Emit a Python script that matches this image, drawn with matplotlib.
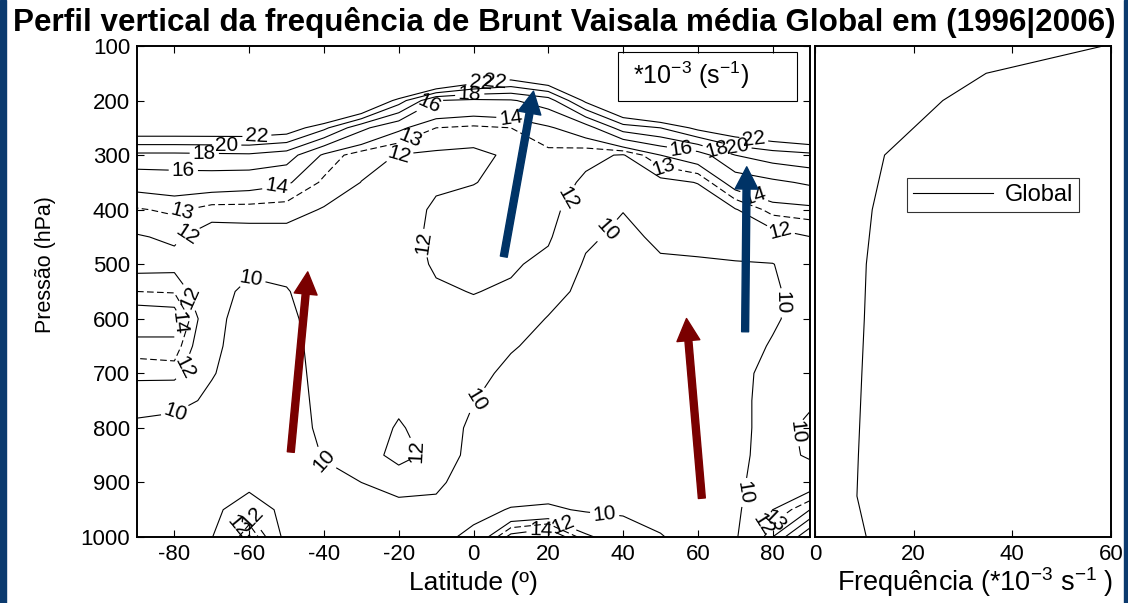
import numpy as np
import matplotlib
matplotlib.use("Agg")
import matplotlib.pyplot as plt
from matplotlib.patches import Rectangle

plt.rcParams['font.family'] = ['Liberation Sans', 'DejaVu Sans']
plt.rcParams['mathtext.fontset'] = 'custom'
plt.rcParams['mathtext.rm'] = 'Liberation Sans'
plt.rcParams['mathtext.it'] = 'Liberation Sans:italic'
plt.rcParams['mathtext.bf'] = 'Liberation Sans:bold'
plt.rcParams['axes.unicode_minus'] = False

# ---------------- data ----------------
LAT = [-90, -80, -70, -60, -50, -40, -30, -20, -10, 0, 10, 20, 30, 40, 50, 60, 70, 80, 90]
PRES = [100, 150, 200, 250, 300, 350, 400, 450, 500, 550, 600, 650, 700, 750, 800, 850, 900, 950, 1000]

# Brunt-Vaisala frequency (*1e-3 s^-1), one profile per latitude (top -> bottom)
N_m90 = [45, 38, 30, 24.0, 17.5, 14.6, 12.9, 11.9, 11.5, 13.0, 15.0, 13.5, 12.4, 10.9, 9.5, 8.8, 8.5, 8.4, 8.5]
N_m80 = [45, 38, 30, 24.0, 17.5, 14.8, 13.2, 12.2, 11.6, 12.9, 14.8, 13.6, 12.5, 10.5, 9.4, 8.7, 8.4, 8.3, 8.3]
N_m70 = [44, 37, 30, 24.0, 17.6, 14.8, 12.6, 11.3, 10.4, 10.5, 10.4, 10.3, 10.1, 9.7, 9.2, 8.9, 8.9, 9.3, 9.9]
N_m60 = [44, 37, 30, 24.0, 17.7, 14.6, 12.6, 11.4, 10.3, 9.7, 9.4, 9.3, 9.2, 9.1, 9.0, 9.0, 9.1, 11.6, 14.2]
N_m50 = [44, 37, 30, 23.5, 17.0, 14.2, 12.5, 11.5, 10.5, 9.9, 9.6, 9.4, 9.3, 9.2, 9.1, 9.0, 9.0, 9.2, 9.3]
N_m40 = [45, 38, 30, 20.5, 13.7, 12.8, 11.9, 11.4, 11.1, 10.9, 10.8, 10.7, 10.6, 10.5, 10.4, 10.1, 9.6, 9.2, 9.0]
N_m30 = [45, 36, 27, 16.5, 12.4, 11.98, 11.7, 11.5, 11.3, 11.2, 11.1, 11.0, 10.9, 10.9, 10.9, 10.8, 10.0, 9.4, 9.2]
N_m20 = [46, 35, 21, 14.3, 11.95, 11.6, 11.4, 11.3, 11.2, 11.2, 11.2, 11.3, 11.4, 11.6, 12.2, 12.8, 10.6, 9.5, 9.2]
N_m10 = [46, 30, 16, 13.0, 11.8, 11.8, 12.2, 12.4, 12.2, 11.8, 11.5, 11.3, 11.2, 11.1, 11.1, 11.3, 10.3, 9.6, 9.5]
N_0 = [45, 26, 15.6, 12.8, 11.7, 11.95, 12.5, 12.6, 12.4, 12.05, 11.6, 11.0, 10.5, 10.05, 9.6, 9.3, 9.2, 9.5, 10.4]
N_p10 = [46, 24, 15.8, 13.0, 12.2, 12.4, 12.6, 12.5, 12.2, 11.8, 11.0, 10.15, 9.6, 9.3, 9.1, 9.0, 9.0, 10.1, 14.5]
N_p20 = [48, 26, 17.0, 13.8, 12.7, 12.6, 12.5, 12.2, 11.6, 10.7, 9.9, 9.5, 9.3, 9.1, 9.0, 8.9, 8.9, 10.3, 15.5]
N_p30 = [48, 30, 22.5, 15.0, 12.3, 11.8, 11.0, 10.3, 9.8, 9.5, 9.3, 9.2, 9.1, 9.0, 8.9, 8.9, 8.9, 9.8, 12.3]
N_p40 = [50, 36, 27, 19.0, 11.9, 10.9, 10.05, 9.6, 9.4, 9.2, 9.1, 9.0, 8.9, 8.9, 8.9, 8.9, 8.9, 9.7, 11.0]
N_p50 = [50, 38, 30, 20.0, 14.0, 11.6, 10.9, 10.3, 9.8, 9.5, 9.4, 9.3, 9.2, 9.2, 9.2, 9.2, 9.2, 9.4, 10.1]
N_p60 = [48, 38, 32, 22.6, 15.0, 12.05, 11.1, 10.4, 9.85, 9.6, 9.4, 9.4, 9.3, 9.3, 9.3, 9.3, 9.3, 9.3, 9.3]
N_p70 = [46, 36, 30, 24.0, 18.0, 14.8, 11.9, 10.7, 9.9, 9.6, 9.5, 9.5, 9.6, 9.6, 9.6, 9.6, 9.6, 9.6, 9.7]
N_p80 = [46, 36, 31, 25.0, 19.0, 15.6, 13.4, 11.4, 9.95, 9.8, 9.85, 10.1, 10.4, 10.5, 10.5, 10.6, 11.0, 12.0, 14.0]
N_p90 = [46, 37, 32, 26.0, 19.5, 16.3, 13.6, 11.98, 11.0, 10.6, 10.5, 10.5, 10.4, 10.2, 9.7, 9.8, 11.0, 14.0, 20.0]

LEVELS = [10, 12, 13, 14, 16, 18, 20, 22]

# global mean profile
GLOBAL_PRES = [1000, 925, 850, 700, 600, 500, 400, 300, 250, 200, 150, 100]
GLOBAL_FREQ = [10.4, 8.5, 8.8, 9.5, 10.0, 10.4, 11.6, 14.1, 20.0, 25.9, 34.7, 58.4]

LAT_TICKS = [-80, -60, -40, -20, 0, 20, 40, 60, 80]
P_TICKS = [100, 200, 300, 400, 500, 600, 700, 800, 900, 1000]
F_TICKS = [0, 20, 40, 60]

# ---------------- layout ----------------
W, H = 1128, 603
fig = plt.figure(figsize=(W / 100, H / 100), dpi=100)

def frac(x0, y0, x1, y1):
    return [x0 / W, 1 - y1 / H, (x1 - x0) / W, (y1 - y0) / H]

ax = fig.add_axes(frac(137, 46, 810, 537))
ax2 = fig.add_axes(frac(815, 46, 1111, 537))

Z = np.array([N_m90, N_m80, N_m70, N_m60, N_m50, N_m40, N_m30, N_m20, N_m10, N_0,
              N_p10, N_p20, N_p30, N_p40, N_p50, N_p60, N_p70, N_p80, N_p90]).T

styles = [(0, (6, 3)) if lv == 13 else 'solid' for lv in LEVELS]
cs = ax.contour(LAT, PRES, Z, levels=LEVELS, colors='k', linewidths=0.8, linestyles=styles)

LABEL_POS = [(-58, 258), (-66, 278), (-72, 293), (-77.6, 322), (-52.6, 360), (-78, 405),
             (-76, 456), (-17.4, 262), (-20, 296), (-12, 204), (-1, 190), (2, 171), (4, 157),
             (10, 232), (23, 370), (34.6, 431), (55.5, 294), (51, 320), (65, 291),
             (70.6, 278), (75, 269), (75, 377), (82, 443), (-13, 461), (-59.6, 530),
             (-76.6, 562), (-78, 610), (-77, 690), (-80, 768), (-40, 859), (-13, 835),
             (0.8, 749), (84, 571), (84, 810), (73, 919), (77, 975), (81, 975),
             (-64, 975), (-57, 955), (18, 985), (24, 975), (35, 963)]
ax.clabel(cs, fmt='%d', fontsize=15, inline=True, inline_spacing=3, manual=LABEL_POS)

ax.set_xlim(-90, 90)
ax.set_ylim(1000, 100)
ax.set_xticks(LAT_TICKS)
ax.set_yticks(P_TICKS)
ax.tick_params(direction='in', length=5, width=0.8, top=True, right=True, labelsize=16, pad=5)

# unit box
ax.add_patch(Rectangle((0.715, 0.888), 0.266, 0.100, transform=ax.transAxes,
                       fill=False, edgecolor='k', linewidth=0.8, zorder=5))
ax.text(0.823, 0.940, '*10$^{-3}$ (s$^{-1}$)', transform=ax.transAxes,
        ha='center', va='center', fontsize=18, zorder=6)

# arrows (axes-fraction layout)
ARROWS = [((0.2285, 0.173), (0.2537, 0.540), '#7a0000'),
          ((0.8393, 0.079), (0.8165, 0.445), '#7a0000'),
          ((0.5450, 0.571), (0.5891, 0.908), '#003366'),
          ((0.9036, 0.418), (0.9060, 0.754), '#003366')]
for tail, tip, col in ARROWS:
    ax.annotate('', xy=tip, xytext=tail, xycoords='axes fraction', textcoords='axes fraction',
                arrowprops=dict(arrowstyle='simple,head_length=1.6,head_width=1.65,tail_width=0.5',
                                mutation_scale=10, color=col, shrinkA=0, shrinkB=0),
                zorder=10)

# right profile
ax2.plot(GLOBAL_FREQ, GLOBAL_PRES, color='k', linewidth=0.8, label='Global')
ax2.set_xlim(0, 60)
ax2.set_ylim(1000, 100)
ax2.set_xticks(F_TICKS)
ax2.set_yticks([])
ax2.tick_params(direction='in', length=5, width=0.8, top=True, labelsize=16, pad=5)
leg = ax2.legend(loc='upper left', bbox_to_anchor=(0.311, 0.731), fontsize=17, frameon=True,
                 fancybox=False, edgecolor='k', handlelength=3.4, borderpad=0.25,
                 handletextpad=0.5, borderaxespad=0)
leg.get_frame().set_linewidth(0.8)

for a in (ax, ax2):
    for s in a.spines.values():
        s.set_linewidth(1.4)

# texts
fig.text(0.5, 1 - 22 / H, 'Perfil vertical da frequência de Brunt Vaisala média Global em (1996|2006)',
         ha='center', va='center', fontsize=22.6, fontweight='bold')
fig.text(45 / W, 1 - 265 / H, 'Pressão (hPa)', rotation=90, ha='center', va='center', fontsize=15.5)
fig.text(473 / W, 1 - 583 / H, 'Latitude (º)', ha='center', va='center', fontsize=19)
fig.text(975 / W, 1 - 582 / H, 'Frequência (*10$^{-3}$ s$^{-1}$ )', ha='center', va='center', fontsize=19.5)

# blue side bands
fig.patches.append(Rectangle((0, 0), 6 / W, 1, transform=fig.transFigure, color='#0b3a6e', zorder=0))
fig.patches.append(Rectangle((1 - 4 / W, 0), 4 / W, 1, transform=fig.transFigure, color='#0b3a6e', zorder=0))

fig.savefig('out.png', dpi=100)
